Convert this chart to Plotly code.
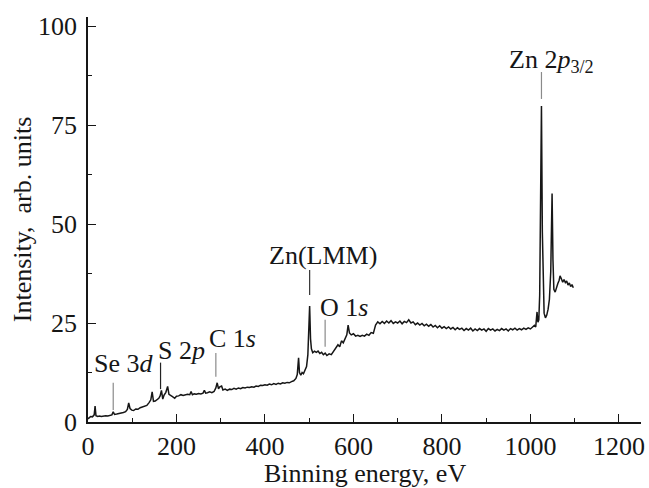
import plotly.graph_objects as go

# Survey XPS spectrum: binding energy (eV) and intensity (arb. units)
energy = [
    0, 3, 6, 10, 14, 16, 18, 22, 26, 30, 35, 40, 45, 50, 54, 57, 60, 65, 70, 75,
    80, 85, 89, 92, 95, 99, 103, 108, 113, 118, 123, 128, 133, 138, 142, 145, 148, 152, 156, 160,
    163, 166, 169, 172, 176, 180, 183, 187, 191, 196, 200, 205, 210, 215, 220, 225, 230, 233, 236, 240,
    245, 250, 255, 260, 263, 266, 270, 275, 280, 285, 289, 292, 295, 298, 302, 305, 310, 315, 320, 325,
    330, 335, 340, 345, 350, 355, 360, 365, 370, 375, 380, 385, 390, 395, 400, 405, 410, 415, 420, 425,
    430, 435, 440, 445, 450, 455, 460, 465, 470, 473, 476, 478, 481, 484, 487, 490, 494, 497, 499, 501,
    503, 505, 508, 512, 516, 520, 524, 528, 532, 536, 540, 545, 550, 555, 560, 565, 569, 573, 577, 581,
    585, 588, 591, 595, 600, 605, 610, 615, 620, 625, 630, 635, 640, 645, 650, 655, 660, 665, 670, 675,
    680, 685, 690, 695, 700, 705, 710, 715, 720, 725, 730, 735, 740, 745, 750, 755, 760, 765, 770, 775,
    780, 785, 790, 795, 800, 805, 810, 815, 820, 825, 830, 835, 840, 845, 850, 855, 860, 865, 870, 875,
    880, 885, 890, 895, 900, 905, 910, 915, 920, 925, 930, 935, 940, 945, 950, 955, 960, 965, 970, 975,
    980, 985, 990, 995, 1000, 1005, 1009, 1012, 1015, 1017, 1019, 1021, 1023, 1025, 1027, 1029, 1031, 1034, 1037, 1040,
    1043, 1046, 1048, 1049, 1051, 1053, 1056, 1059, 1062, 1065, 1067, 1070, 1073, 1076, 1079, 1082, 1085, 1088, 1091, 1094,
    1097,
]
intensity = [
    0.8, 1.2, 1.4, 1.3, 1.8, 4.0, 1.6, 1.4, 1.5, 1.4, 1.5, 1.6, 1.5, 1.7, 1.8, 2.6, 1.9, 2.0, 2.1, 2.2,
    2.4, 2.6, 3.2, 4.8, 3.4, 3.0, 2.9, 3.3, 3.2, 3.6, 3.8, 4.0, 4.2, 4.9, 5.6, 7.6, 5.2, 5.3, 5.6, 6.0,
    6.6, 8.0, 5.8, 6.8, 7.5, 9.0, 7.0, 6.6, 6.4, 6.0, 6.5, 6.6, 6.9, 6.7, 6.8, 7.0, 6.9, 7.7, 6.9, 7.1,
    7.0, 7.2, 7.1, 7.3, 8.0, 7.3, 7.4, 7.6, 7.4, 7.7, 8.6, 9.9, 8.4, 8.9, 9.1, 8.1, 8.3, 8.0, 8.3, 8.2,
    8.5, 8.3, 8.6, 8.4, 8.7, 8.6, 8.8, 8.7, 8.9, 8.8, 9.1, 9.0, 9.3, 9.2, 9.4, 9.3, 9.6, 9.4, 9.7, 9.5,
    9.8, 9.6, 9.9, 9.8, 10.0, 9.9, 10.2, 10.4, 11.0, 12.0, 16.2, 12.5, 11.8, 12.5, 12.2, 13.0, 14.0, 17.0, 22.0, 29.3,
    21.0, 18.5, 17.5, 17.9, 17.6, 17.9, 17.3, 17.6, 17.0, 17.4, 16.8, 17.2, 17.0, 17.8, 18.6, 19.5, 19.0, 20.5, 20.0, 21.2,
    22.0, 24.5, 22.5, 22.0, 22.3, 21.7, 21.9, 21.6, 21.9, 21.7, 22.2, 21.9, 22.6, 22.4, 24.5, 25.3, 24.8, 25.4, 24.9, 25.5,
    25.0, 25.6, 24.9, 25.3, 25.0, 25.5, 24.8, 25.4, 25.1, 25.8, 25.0, 25.3, 24.6, 25.0, 24.5, 24.9, 24.3, 24.7, 24.2, 24.6,
    24.0, 24.4, 23.8, 24.3, 23.7, 24.1, 23.6, 24.0, 23.5, 23.9, 23.3, 23.8, 23.4, 23.7, 23.1, 23.6, 23.2, 23.7, 23.0, 23.5,
    23.1, 23.6, 23.2, 23.5, 22.9, 23.6, 23.2, 23.5, 23.0, 23.4, 23.1, 23.6, 23.2, 23.5, 23.0, 23.6, 23.3, 23.7, 23.2, 23.6,
    23.3, 23.7, 23.4, 23.8, 23.5, 24.0, 24.4, 24.0, 27.8, 25.2, 25.8, 32.0, 50.0, 79.8, 48.0, 32.0, 27.5, 26.3, 27.0, 28.5,
    31.0, 38.0, 48.0, 57.7, 41.0, 33.5, 32.8, 34.2, 35.0, 35.8, 36.9, 36.2, 35.3, 36.0, 35.2, 35.6, 34.6, 35.1, 34.2, 34.7,
    33.9,
]

# Peak assignments and the energies their leader lines point to
peak_labels = ["Se 3<i>d</i>", "S 2<i>p</i>", "C 1<i>s</i>", "Zn(LMM)", "O 1<i>s</i>",
               "Zn 2<i>p</i><sub>3/2</sub>"]
peak_energies = [57, 164, 289, 501, 536, 1025]

x_ticks = [0, 200, 400, 600, 800, 1000, 1200]
y_ticks = [0, 25, 50, 75, 100]

# Leader line extents (y from, y to), label anchor (x, baseline y) and line colour
line_spans = [(3.0, 9.9), (8.3, 15.0), (11.4, 17.4), (32.1, 38.4), (19.0, 25.8), (81.6, 88.4)]
label_pos = [(9, 12.45), (152.7, 15.7), (269.5, 18.7), (404.2, 39.6), (518.8, 26.6), (947.7, 89.8)]
label_shift = [-7, -7, -7, -7, -7, -13]
line_colors = ["#8a8a8a", "#222222", "#8a8a8a", "#333333", "#8a8a8a", "#8a8a8a"]

FONT = "Liberation Serif, Times New Roman, serif"
FS = 26
INK = "#161616"

fig = go.Figure()
fig.add_trace(go.Scatter(
    x=energy, y=intensity, mode="lines",
    line=dict(color=INK, width=1.5),
    showlegend=False, hoverinfo="skip",
))

for e, (y0, y1), col in zip(peak_energies, line_spans, line_colors):
    fig.add_shape(type="line", x0=e, x1=e, y0=y0, y1=y1, xref="x", yref="y",
                  line=dict(color=col, width=1.2))

for txt, (lx, ly), dy in zip(peak_labels, label_pos, label_shift):
    fig.add_annotation(x=lx, y=ly, xref="x", yref="y", text=txt, showarrow=False,
                       xanchor="left", yanchor="bottom", yshift=dy,
                       font=dict(family=FONT, size=FS, color=INK))

# Axis titles
fig.add_annotation(x=0.5, y=-0.128, xref="paper", yref="paper",
                   text="Binning energy, eV", showarrow=False,
                   xanchor="center", yanchor="middle",
                   font=dict(family=FONT, size=FS, color=INK))
fig.add_annotation(x=-0.118, y=0.5, xref="paper", yref="paper",
                   text="Intensity,  arb. units", showarrow=False, textangle=-90,
                   xanchor="center", yanchor="middle",
                   font=dict(family=FONT, size=FS, color=INK))

axis_common = dict(
    showline=True, linecolor=INK, linewidth=1.5, mirror=False,
    ticks="inside", ticklen=8, tickwidth=1.2, tickcolor=INK,
    showgrid=False, zeroline=False,
    tickfont=dict(family=FONT, size=FS, color=INK),
)

fig.update_xaxes(range=[0, 1250], tickvals=x_ticks,
                 minor=dict(ticks="inside", ticklen=4, tickwidth=1.2, dtick=100,
                            tick0=0, tickcolor=INK),
                 **axis_common)
fig.update_yaxes(range=[0, 102.3], tickvals=y_ticks, ticklabelstandoff=4,
                 minor=dict(ticks="inside", ticklen=4, tickwidth=1.2, dtick=12.5,
                            tick0=0, tickcolor=INK),
                 **axis_common)

fig.update_layout(
    width=649, height=488,
    margin=dict(l=88, r=4, t=17, b=66),
    paper_bgcolor="white", plot_bgcolor="white",
    font=dict(family=FONT, size=FS, color=INK),
)

fig.write_html("out.html")
